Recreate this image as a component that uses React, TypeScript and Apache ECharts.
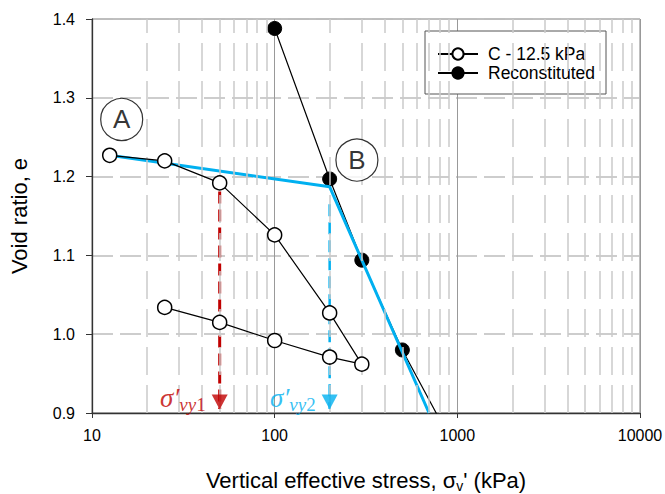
import React, { useEffect, useRef } from 'react';
import * as echarts from 'echarts';

// Data
const cStress = [12.5, 25, 50, 100, 200, 300, 200, 100, 50, 25];
const cVoid = [1.227, 1.22, 1.192, 1.126, 1.027, 0.962, 0.971, 0.992, 1.015, 1.034];
const rStress = [100, 200, 300, 500, 1000];
const rVoid = [1.388, 1.197, 1.094, 0.98, 0.85];
const bilinStress = [12.5, 200, 700];
const bilinVoid = [1.227, 1.187, 0.9];
const yieldStress = [50, 200];
const yieldTopVoid = [1.181, 1.165];
const yieldTipVoid = [0.905, 0.905];
const yieldSub = ['vy', 'vy'];
const yieldNum = ['1', '2'];
const yieldColors = ['#c00000', '#00b0f0'];
const noteNames = ['A', 'B'];
const noteStress = [14.54, 282];
const noteVoid = [1.2725, 1.221];
const xMajor = [10, 100, 1000, 10000];
const minorMult = [2, 3, 4, 5, 6, 7, 8, 9];
const seriesNames = ['C - 12.5 kPa', 'Reconstituted'];

const FONT = '"Liberation Sans", Arial, sans-serif';
const MATH = '"Liberation Serif", "DejaVu Serif", serif';

export default function App() {
  const ref = useRef<HTMLDivElement>(null);
  useEffect(() => {
    if (!ref.current) return;
    const chart = echarts.init(ref.current, undefined, { renderer: 'svg' });
    const minorX: number[] = [];
    xMajor.slice(0, -1).forEach((d) => minorMult.forEach((m) => minorX.push(d * m)));

    const option: any = {
      animation: false,
      backgroundColor: '#fff',
      textStyle: { fontFamily: FONT },
      grid: {
        left: 92,
        top: 19,
        right: 25,
        bottom: 81,
        show: true,
        borderColor: '#808080',
        borderWidth: 1,
        containLabel: false,
        outerBoundsMode: 'none',
      },
      legend: {
        data: seriesNames,
        left: 425,
        top: 31,
        orient: 'vertical',
        backgroundColor: '#fff',
        borderColor: '#555',
        borderWidth: 1,
        borderRadius: 0,
        padding: [14, 11, 12, 12],
        itemWidth: 40,
        itemHeight: 14,
        itemGap: 1,
        textStyle: { fontFamily: FONT, fontSize: 17.5, lineHeight: 18, color: '#000', padding: [0, 0, 0, 5] },
      },
      xAxis: {
        type: 'log',
        logBase: 10,
        min: 10,
        max: 10000,
        name: "{a|Vertical effective stress, σ}{s|v}{a|' (kPa)}",
        nameLocation: 'middle',
        nameGap: 55,
        nameTextStyle: {
          rich: {
            a: { fontFamily: FONT, fontSize: 22, color: '#000' },
            s: { fontFamily: FONT, fontSize: 14, color: '#000', padding: [11, 0, 0, 0] },
          },
        },
        axisLine: { show: true, onZero: false, lineStyle: { color: '#333', width: 1.3 } },
        axisTick: { show: true, length: 5, lineStyle: { color: '#333' } },
        axisLabel: {
          fontFamily: FONT,
          fontSize: 16,
          color: '#000',
          margin: 14,
          formatter: (v: number) => String(Math.round(v)),
        },
        splitLine: { show: true, lineStyle: { color: '#999', width: 1, type: 'solid' } },
      },
      yAxis: {
        type: 'value',
        min: 0.9,
        max: 1.4,
        interval: 0.1,
        name: 'Void ratio, e',
        nameLocation: 'middle',
        nameGap: 62,
        nameTextStyle: { fontFamily: FONT, fontSize: 22, color: '#000' },
        axisLine: { show: true, lineStyle: { color: '#333', width: 1.3 } },
        axisTick: { show: true, length: 6, lineStyle: { color: '#333' } },
        axisLabel: {
          fontFamily: FONT,
          fontSize: 16,
          color: '#000',
          margin: 17,
          formatter: (v: number) => v.toFixed(1),
        },
        splitLine: { show: true, lineStyle: { color: '#bdbdbd', width: 1.5, type: [21, 7] } },
      },
      series: [
        {
          type: 'line',
          name: 'minor-grid',
          data: [],
          silent: true,
          z: 1,
          markLine: {
            silent: true,
            symbol: 'none',
            animation: false,
            label: { show: false },
            lineStyle: { color: '#cacaca', width: 1.5, type: [28, 10] },
            data: minorX.map((v) => ({ xAxis: v })),
          },
        },
        {
          type: 'line',
          name: seriesNames[1],
          data: rStress.map((s, i) => [s, rVoid[i]]),
          symbol: 'circle',
          symbolSize: 14,
          lineStyle: { color: '#000', width: 1.2 },
          itemStyle: { color: '#000', borderColor: '#000', borderWidth: 1 },
          z: 3,
        },
        {
          type: 'line',
          name: 'bilinear',
          data: bilinStress.map((s, i) => [s, bilinVoid[i]]),
          symbol: 'none',
          lineStyle: { color: '#00b0f0', width: 3 },
          z: 4,
        },
        ...yieldStress.map((s, i) => ({
          type: 'line',
          name: 'yield' + i,
          data: [
            [s, yieldTopVoid[i]],
            [s, yieldTipVoid[i]],
          ],
          symbol: 'none',
          lineStyle: { color: yieldColors[i], width: i === 0 ? 3 : 2.5, type: [12, 6] },
          z: 4,
        })),
        {
          type: 'line',
          name: seriesNames[0],
          data: cStress.map((s, i) => [s, cVoid[i]]),
          symbol: 'circle',
          symbolSize: 14,
          lineStyle: { color: '#000', width: 1.2 },
          itemStyle: { color: '#fff', borderColor: '#000', borderWidth: 1.5 },
          z: 5,
        },
        {
          type: 'scatter',
          name: 'arrows',
          symbol: 'path://M0 0L16 0L8 15Z',
          symbolSize: [16, 15],
          symbolOffset: [0, -7],
          z: 6,
          data: yieldStress.map((s, i) => ({
            value: [s, yieldTipVoid[i]],
            itemStyle: { color: yieldColors[i] },
            label: {
              show: true,
              position: 'left',
              distance: 6,
              offset: [0, -4],
              formatter: `{s|σ′}{b|${yieldSub[i]}}{n|${yieldNum[i]}}`,
              rich: {
                s: { fontFamily: MATH, fontStyle: 'italic', fontSize: 27, color: yieldColors[i] },
                b: { fontFamily: MATH, fontStyle: 'italic', fontSize: 19, color: yieldColors[i], padding: [12, 0, 0, 0] },
                n: { fontFamily: MATH, fontSize: 19, color: yieldColors[i], padding: [12, 0, 0, 0] },
              },
            },
          })),
        },
        {
          type: 'scatter',
          name: 'notes',
          symbol: 'circle',
          symbolSize: 42,
          z: 6,
          itemStyle: { color: '#fff', borderColor: '#000', borderWidth: 1.2 },
          label: {
            show: true,
            position: 'inside',
            fontFamily: FONT,
            fontSize: 26,
            color: '#000',
            formatter: (p: any) => p.name,
          },
          data: noteNames.map((n, i) => ({ name: n, value: [noteStress[i], noteVoid[i]] })),
        },
      ],
    };
    chart.setOption(option);
    return () => chart.dispose();
  }, []);
  return <div ref={ref} style={{ width: 665, height: 494, position: 'absolute', left: 0, top: 0 }} />;
}
